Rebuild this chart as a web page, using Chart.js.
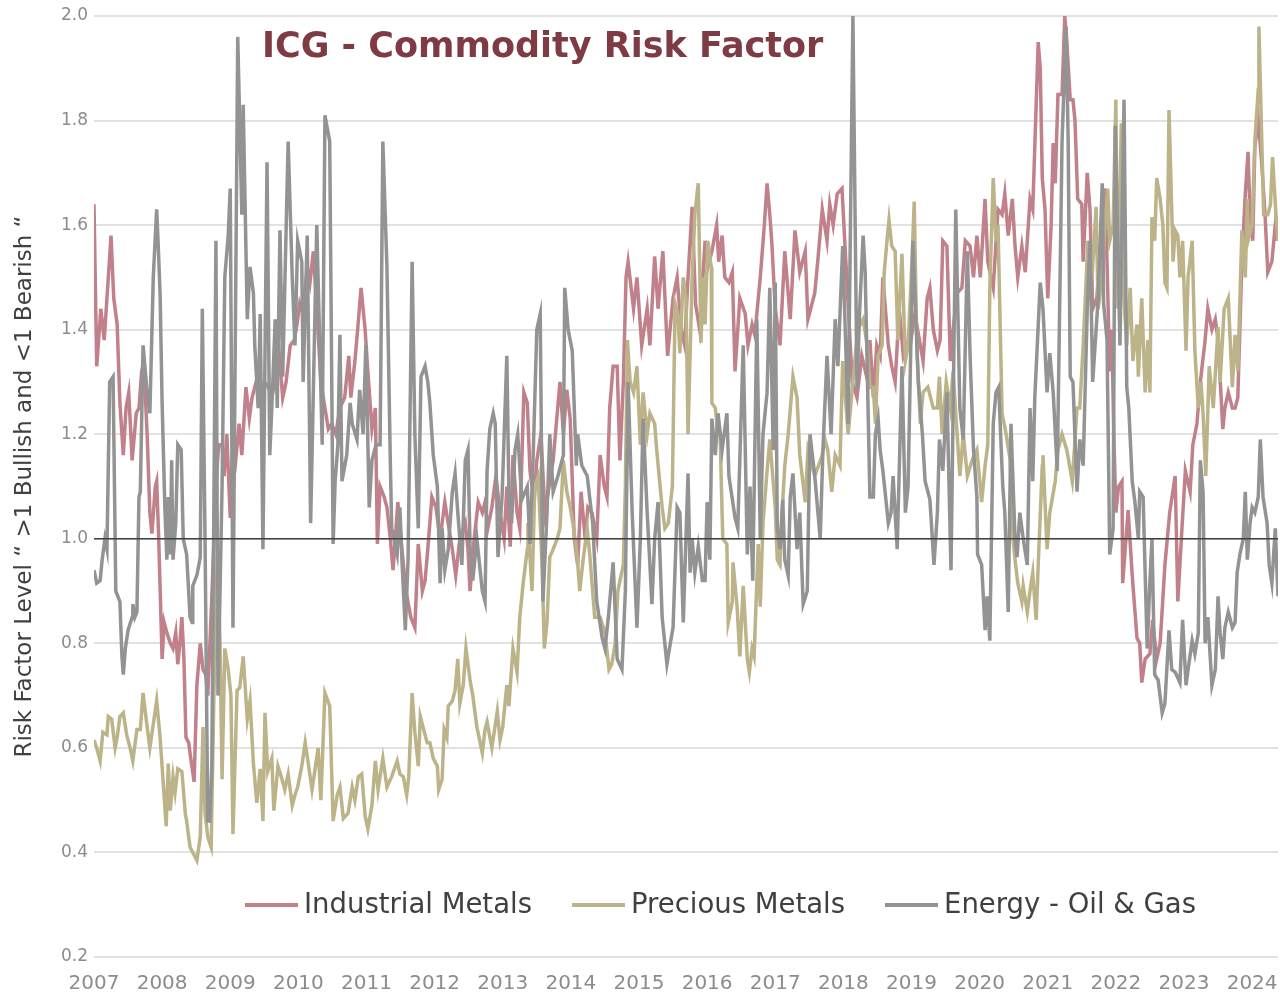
<!DOCTYPE html>
<html>
<head>
<meta charset="utf-8">
<title>ICG - Commodity Risk Factor</title>
<script src="https://cdn.jsdelivr.net/npm/chart.js@4.4.1/dist/chart.umd.min.js"></script>
<style>
  html, body { margin: 0; padding: 0; background: #ffffff; }
  #wrap { width: 1280px; height: 994px; }
</style>
</head>
<body>
<div id="wrap"><canvas id="chart" width="1280" height="994"></canvas></div>
<script>
const chartTitle = "ICG - Commodity Risk Factor";
const yAxisTitle = "Risk Factor Level \u201C >1 Bullish and <1 Bearish \u201C";
const seriesNames = ["Industrial Metals", "Precious Metals", "Energy - Oil & Gas"];
const seriesColors = ["#c0818a", "#bcb389", "#939393"];
const yearTicks = [2007, 2008, 2009, 2010, 2011, 2012, 2013, 2014, 2015, 2016, 2017, 2018, 2019, 2020, 2021, 2022, 2023, 2024];
const yMin = 0.2, yMax = 2.0, yStep = 0.2;
const xMin = 2007, xMax = 2024.38;
const neutralLevel = 1.0;

// [decimal year, risk factor]
const industrialMetals = [
[2007.00,1.64],[2007.04,1.33],[2007.10,1.44],[2007.15,1.38],[2007.21,1.50],[2007.25,1.58],[2007.29,1.46],[2007.34,1.41],[2007.38,1.26],[2007.43,1.16],[2007.47,1.25],[2007.51,1.28],[2007.56,1.15],[2007.62,1.24],[2007.66,1.25],[2007.70,1.32],[2007.73,1.34],[2007.78,1.20],[2007.82,1.05],[2007.85,1.01],[2007.90,1.10],[2007.92,1.11],[2007.95,1.00],
[2008.00,0.77],[2008.03,0.84],[2008.07,0.82],[2008.12,0.80],[2008.16,0.79],[2008.20,0.82],[2008.23,0.76],[2008.26,0.80],[2008.29,0.85],[2008.32,0.77],[2008.35,0.62],[2008.39,0.61],[2008.42,0.58],[2008.47,0.535],[2008.51,0.72],[2008.56,0.80],[2008.60,0.75],[2008.64,0.74],[2008.67,0.70],[2008.73,0.89],[2008.79,1.10],[2008.83,1.18],[2008.88,1.18],[2008.91,1.12],[2008.95,1.20],
[2009.00,1.04],[2009.04,1.18],[2009.08,1.15],[2009.13,1.22],[2009.17,1.16],[2009.23,1.29],[2009.28,1.23],[2009.32,1.27],[2009.38,1.30],[2009.44,1.28],[2009.50,1.30],[2009.56,1.29],[2009.61,1.27],[2009.67,1.31],[2009.72,1.35],[2009.77,1.27],[2009.82,1.30],[2009.88,1.37],[2009.94,1.38],[2009.98,1.41],
[2010.02,1.45],[2010.07,1.43],[2010.13,1.52],[2010.17,1.49],[2010.22,1.55],[2010.27,1.44],[2010.33,1.30],[2010.39,1.25],[2010.44,1.21],[2010.49,1.22],[2010.55,1.20],[2010.61,1.25],[2010.68,1.27],[2010.74,1.35],[2010.77,1.27],[2010.83,1.34],[2010.87,1.40],[2010.92,1.48],[2010.98,1.40],
[2011.02,1.32],[2011.08,1.21],[2011.13,1.25],[2011.16,0.99],[2011.20,1.10],[2011.26,1.08],[2011.30,1.06],[2011.35,1.00],[2011.39,0.94],[2011.46,1.07],[2011.52,0.98],[2011.58,0.90],[2011.65,0.85],[2011.71,0.83],[2011.76,0.99],[2011.82,0.90],[2011.86,0.92],[2011.90,0.98],[2011.96,1.08],
[2012.02,1.06],[2012.08,1.00],[2012.15,1.07],[2012.21,1.02],[2012.26,0.98],[2012.31,0.93],[2012.37,1.00],[2012.45,1.03],[2012.49,0.98],[2012.52,0.90],[2012.58,1.00],[2012.64,1.07],[2012.70,1.05],[2012.74,1.07],[2012.78,1.02],[2012.84,1.06],[2012.90,1.12],[2012.96,1.05],
[2013.02,1.00],[2013.06,1.10],[2013.11,0.985],[2013.15,1.16],[2013.21,1.05],[2013.25,1.02],[2013.31,1.28],[2013.36,1.26],[2013.40,1.13],[2013.46,1.07],[2013.50,1.15],[2013.56,1.20],[2013.62,1.05],[2013.68,1.10],[2013.74,1.15],[2013.80,1.24],[2013.84,1.30],[2013.89,1.20],[2013.94,1.285],[2013.99,1.23],
[2014.05,1.00],[2014.10,0.95],[2014.15,1.09],[2014.21,1.00],[2014.25,1.06],[2014.31,1.05],[2014.38,1.00],[2014.43,1.16],[2014.49,1.10],[2014.53,1.08],[2014.57,1.25],[2014.62,1.33],[2014.68,1.33],[2014.72,1.15],[2014.77,1.30],[2014.81,1.50],[2014.84,1.53],[2014.92,1.44],[2014.97,1.50],
[2015.04,1.37],[2015.12,1.44],[2015.16,1.37],[2015.23,1.54],[2015.28,1.44],[2015.35,1.55],[2015.42,1.35],[2015.50,1.46],[2015.56,1.50],[2015.62,1.40],[2015.67,1.37],[2015.72,1.50],[2015.78,1.635],[2015.83,1.45],[2015.89,1.40],[2015.97,1.57],
[2016.01,1.52],[2016.07,1.55],[2016.14,1.60],[2016.17,1.53],[2016.22,1.58],[2016.26,1.50],[2016.32,1.49],[2016.37,1.51],[2016.41,1.32],[2016.48,1.46],[2016.56,1.43],[2016.60,1.37],[2016.66,1.41],[2016.70,1.39],[2016.78,1.50],[2016.84,1.60],[2016.88,1.68],[2016.92,1.62],[2016.95,1.566],
[2017.00,1.44],[2017.07,1.37],[2017.14,1.55],[2017.22,1.42],[2017.29,1.59],[2017.36,1.51],[2017.44,1.55],[2017.48,1.42],[2017.54,1.45],[2017.58,1.47],[2017.63,1.54],[2017.69,1.63],[2017.76,1.57],[2017.80,1.64],[2017.85,1.60],[2017.91,1.66],[2017.98,1.67],
[2018.02,1.57],[2018.07,1.45],[2018.13,1.30],[2018.20,1.27],[2018.27,1.35],[2018.36,1.30],[2018.39,1.38],[2018.44,1.27],[2018.49,1.37],[2018.54,1.35],[2018.58,1.50],[2018.66,1.37],[2018.71,1.33],[2018.76,1.30],[2018.82,1.44],[2018.88,1.35],[2018.93,1.37],[2018.98,1.37],
[2019.05,1.43],[2019.13,1.37],[2019.17,1.34],[2019.23,1.46],[2019.27,1.48],[2019.32,1.40],[2019.38,1.36],[2019.42,1.38],[2019.46,1.57],[2019.52,1.56],[2019.57,1.34],[2019.61,1.40],[2019.67,1.47],[2019.74,1.48],[2019.79,1.57],[2019.86,1.56],[2019.91,1.50],[2019.96,1.58],
[2020.01,1.50],[2020.08,1.65],[2020.12,1.53],[2020.20,1.48],[2020.27,1.63],[2020.33,1.62],[2020.37,1.66],[2020.42,1.58],[2020.48,1.65],[2020.52,1.56],[2020.56,1.50],[2020.62,1.56],[2020.67,1.51],[2020.74,1.65],[2020.78,1.63],[2020.81,1.75],[2020.86,1.95],[2020.89,1.90],[2020.92,1.69],[2020.96,1.63],
[2021.00,1.46],[2021.05,1.60],[2021.08,1.757],[2021.11,1.68],[2021.15,1.85],[2021.21,1.85],[2021.25,2.00],[2021.28,1.95],[2021.33,1.84],[2021.37,1.84],[2021.40,1.80],[2021.44,1.65],[2021.50,1.64],[2021.52,1.53],[2021.58,1.70],[2021.62,1.63],[2021.66,1.44],[2021.72,1.46],[2021.80,1.61],[2021.84,1.67],[2021.87,1.53],[2021.91,1.32],[2021.94,1.40],[2021.97,1.20],
[2022.00,1.05],[2022.04,1.10],[2022.09,1.11],[2022.10,0.915],[2022.18,1.055],[2022.24,0.93],[2022.31,0.81],[2022.35,0.80],[2022.38,0.725],[2022.43,0.77],[2022.50,0.78],[2022.54,0.845],[2022.60,0.77],[2022.65,0.80],[2022.72,0.95],[2022.79,1.05],[2022.87,1.12],[2022.91,0.88],[2022.97,1.02],
[2023.02,1.13],[2023.09,1.09],[2023.13,1.18],[2023.19,1.22],[2023.24,1.30],[2023.31,1.38],[2023.35,1.44],[2023.41,1.40],[2023.46,1.42],[2023.50,1.38],[2023.57,1.21],[2023.60,1.25],[2023.65,1.28],[2023.71,1.25],[2023.75,1.25],[2023.79,1.27],[2023.85,1.53],[2023.90,1.66],[2023.94,1.74],[2023.97,1.62],
[2024.01,1.57],[2024.04,1.75],[2024.09,1.80],[2024.14,1.72],[2024.19,1.62],[2024.23,1.51],[2024.29,1.53],[2024.34,1.60],[2024.37,1.57]
];

const preciousMetals = [
[2007.00,0.615],[2007.04,0.60],[2007.09,0.575],[2007.13,0.63],[2007.19,0.625],[2007.21,0.66],[2007.26,0.655],[2007.31,0.60],[2007.34,0.62],[2007.38,0.66],[2007.43,0.667],[2007.48,0.625],[2007.53,0.60],[2007.57,0.575],[2007.63,0.635],[2007.68,0.635],[2007.72,0.705],[2007.78,0.64],[2007.82,0.60],[2007.87,0.645],[2007.92,0.69],[2007.97,0.62],
[2008.01,0.545],[2008.06,0.45],[2008.09,0.57],[2008.12,0.48],[2008.16,0.545],[2008.19,0.515],[2008.23,0.56],[2008.29,0.555],[2008.34,0.475],[2008.36,0.46],[2008.41,0.41],[2008.45,0.40],[2008.51,0.385],[2008.56,0.43],[2008.60,0.64],[2008.63,0.475],[2008.67,0.43],[2008.72,0.41],[2008.76,0.70],[2008.81,0.97],[2008.85,0.80],[2008.88,0.54],[2008.92,0.79],[2008.97,0.75],
[2009.01,0.70],[2009.04,0.435],[2009.10,0.71],[2009.14,0.715],[2009.19,0.775],[2009.25,0.655],[2009.29,0.69],[2009.34,0.57],[2009.39,0.495],[2009.44,0.56],[2009.48,0.46],[2009.51,0.667],[2009.55,0.555],[2009.61,0.58],[2009.64,0.48],[2009.70,0.565],[2009.76,0.54],[2009.80,0.52],[2009.85,0.55],[2009.91,0.49],[2009.95,0.51],[2009.99,0.525],
[2010.05,0.565],[2010.10,0.61],[2010.14,0.575],[2010.20,0.52],[2010.24,0.555],[2010.29,0.60],[2010.33,0.50],[2010.39,0.705],[2010.46,0.68],[2010.51,0.46],[2010.57,0.51],[2010.61,0.525],[2010.66,0.465],[2010.73,0.475],[2010.79,0.525],[2010.83,0.50],[2010.88,0.545],[2010.93,0.55],[2010.98,0.47],
[2011.02,0.445],[2011.08,0.49],[2011.13,0.575],[2011.17,0.52],[2011.24,0.58],[2011.30,0.525],[2011.37,0.545],[2011.45,0.575],[2011.49,0.55],[2011.54,0.545],[2011.59,0.51],[2011.62,0.545],[2011.67,0.705],[2011.71,0.63],[2011.76,0.565],[2011.79,0.66],[2011.83,0.64],[2011.89,0.61],[2011.93,0.61],[2011.98,0.58],
[2012.04,0.565],[2012.06,0.52],[2012.11,0.54],[2012.14,0.635],[2012.18,0.62],[2012.20,0.68],[2012.26,0.69],[2012.30,0.71],[2012.34,0.77],[2012.37,0.685],[2012.42,0.72],[2012.46,0.79],[2012.52,0.73],[2012.56,0.70],[2012.62,0.64],[2012.70,0.59],[2012.74,0.635],[2012.77,0.65],[2012.84,0.60],[2012.92,0.67],[2012.96,0.615],
[2013.00,0.64],[2013.06,0.72],[2013.09,0.68],[2013.15,0.79],[2013.21,0.745],[2013.25,0.85],[2013.30,0.915],[2013.36,0.98],[2013.37,1.03],[2013.43,0.90],[2013.47,1.10],[2013.52,1.12],[2013.58,0.94],[2013.61,0.79],[2013.65,0.84],[2013.69,0.965],[2013.74,0.98],[2013.80,1.00],[2013.84,1.02],[2013.89,1.15],[2013.94,1.09],[2013.99,1.06],
[2014.03,1.03],[2014.09,0.97],[2014.13,0.90],[2014.18,0.96],[2014.24,1.02],[2014.28,0.965],[2014.35,0.85],[2014.43,0.85],[2014.50,0.82],[2014.56,0.75],[2014.60,0.76],[2014.65,0.80],[2014.69,0.90],[2014.77,0.95],[2014.80,1.10],[2014.83,1.38],[2014.87,1.30],[2014.92,1.28],[2014.97,1.33],
[2015.02,1.18],[2015.06,1.28],[2015.12,1.20],[2015.16,1.24],[2015.23,1.22],[2015.26,1.17],[2015.31,1.10],[2015.34,1.06],[2015.38,1.02],[2015.43,1.03],[2015.49,1.10],[2015.53,1.45],[2015.57,1.43],[2015.60,1.355],[2015.65,1.50],[2015.69,1.46],[2015.72,1.20],[2015.78,1.50],[2015.82,1.62],[2015.87,1.68],[2015.91,1.375],[2015.94,1.50],[2015.97,1.41],
[2016.01,1.57],[2016.06,1.52],[2016.07,1.26],[2016.12,1.25],[2016.16,1.20],[2016.19,1.20],[2016.23,1.00],[2016.29,0.99],[2016.31,0.84],[2016.37,0.88],[2016.38,0.955],[2016.44,0.87],[2016.48,0.775],[2016.53,0.91],[2016.59,0.77],[2016.62,0.745],[2016.66,0.79],[2016.69,0.775],[2016.75,0.99],[2016.78,0.87],[2016.82,1.03],[2016.88,1.13],[2016.92,1.19],
[2017.00,1.06],[2017.03,0.96],[2017.07,0.95],[2017.10,1.05],[2017.14,1.14],[2017.19,1.20],[2017.26,1.31],[2017.32,1.27],[2017.36,1.16],[2017.44,1.07],[2017.48,1.17],[2017.58,1.12],[2017.69,1.16],[2017.73,1.19],[2017.77,1.17],[2017.83,1.09],[2017.88,1.16],[2017.95,1.14],[2017.99,1.34],
[2018.07,1.20],[2018.14,1.30],[2018.21,1.40],[2018.29,1.42],[2018.35,1.37],[2018.39,1.29],[2018.44,1.29],[2018.47,1.22],[2018.51,1.35],[2018.57,1.37],[2018.60,1.51],[2018.64,1.57],[2018.67,1.61],[2018.71,1.56],[2018.76,1.55],[2018.80,1.38],[2018.86,1.545],[2018.91,1.34],[2018.95,1.37],
[2019.01,1.54],[2019.04,1.645],[2019.08,1.36],[2019.13,1.22],[2019.17,1.28],[2019.24,1.29],[2019.32,1.25],[2019.38,1.25],[2019.41,1.31],[2019.45,1.20],[2019.51,1.30],[2019.57,1.25],[2019.61,1.32],[2019.67,1.20],[2019.71,1.12],[2019.76,1.20],[2019.82,1.12],[2019.89,1.15],[2019.96,1.17],
[2020.03,1.07],[2020.08,1.14],[2020.12,1.18],[2020.15,1.48],[2020.20,1.69],[2020.24,1.57],[2020.27,1.60],[2020.33,1.24],[2020.39,1.20],[2020.45,1.15],[2020.49,1.00],[2020.52,0.96],[2020.56,0.915],[2020.62,0.88],[2020.64,0.91],[2020.70,0.86],[2020.74,0.90],[2020.78,0.935],[2020.83,0.845],[2020.86,0.95],[2020.92,1.14],[2020.93,1.16],[2020.99,0.98],
[2021.03,1.05],[2021.11,1.11],[2021.15,1.17],[2021.21,1.20],[2021.28,1.17],[2021.36,1.11],[2021.43,1.25],[2021.47,1.25],[2021.52,1.37],[2021.59,1.57],[2021.65,1.50],[2021.71,1.635],[2021.74,1.44],[2021.80,1.50],[2021.84,1.60],[2021.88,1.67],[2021.91,1.57],[2021.96,1.60],
[2022.00,1.84],[2022.03,1.44],[2022.08,1.795],[2022.10,1.50],[2022.16,1.37],[2022.21,1.48],[2022.25,1.34],[2022.31,1.41],[2022.33,1.31],[2022.38,1.46],[2022.43,1.28],[2022.47,1.38],[2022.50,1.28],[2022.53,1.615],[2022.57,1.57],[2022.60,1.69],[2022.65,1.65],[2022.69,1.60],[2022.72,1.49],[2022.75,1.48],[2022.78,1.82],[2022.82,1.63],[2022.84,1.53],[2022.87,1.59],[2022.91,1.58],[2022.94,1.50],[2022.98,1.57],
[2023.03,1.36],[2023.06,1.50],[2023.12,1.57],[2023.16,1.36],[2023.21,1.25],[2023.25,1.30],[2023.28,1.24],[2023.32,1.12],[2023.37,1.33],[2023.43,1.25],[2023.50,1.405],[2023.53,1.30],[2023.59,1.44],[2023.65,1.46],[2023.71,1.29],[2023.75,1.39],[2023.79,1.32],[2023.85,1.59],[2023.90,1.50],[2023.93,1.65],[2023.94,1.57],
[2024.00,1.60],[2024.04,1.76],[2024.09,1.86],[2024.10,1.98],[2024.14,1.77],[2024.17,1.62],[2024.23,1.62],[2024.27,1.64],[2024.30,1.73],[2024.35,1.62],[2024.38,1.57]
];

const energyOilGas = [
[2007.00,0.94],[2007.04,0.915],[2007.09,0.92],[2007.12,0.96],[2007.16,1.00],[2007.19,0.98],[2007.23,1.30],[2007.28,1.31],[2007.32,0.90],[2007.38,0.88],[2007.41,0.775],[2007.43,0.74],[2007.46,0.79],[2007.50,0.825],[2007.56,0.85],[2007.57,0.875],[2007.60,0.85],[2007.63,0.86],[2007.66,1.08],[2007.68,1.09],[2007.72,1.37],[2007.78,1.28],[2007.82,1.24],[2007.87,1.50],[2007.92,1.63],[2007.94,1.57],[2007.97,1.47],
[2008.00,1.26],[2008.04,1.06],[2008.07,0.96],[2008.09,1.08],[2008.12,0.97],[2008.14,1.15],[2008.16,0.96],[2008.20,1.03],[2008.23,1.18],[2008.28,1.17],[2008.31,1.00],[2008.36,0.97],[2008.41,0.85],[2008.44,0.84],[2008.45,0.91],[2008.51,0.93],[2008.56,0.965],[2008.59,1.44],[2008.63,1.00],[2008.67,0.46],[2008.70,0.46],[2008.73,0.57],[2008.79,1.57],[2008.82,0.70],[2008.88,1.10],[2008.92,1.50],[2008.97,1.58],
[2009.00,1.67],[2009.04,0.83],[2009.11,1.96],[2009.17,1.62],[2009.19,1.83],[2009.25,1.42],[2009.29,1.52],[2009.34,1.47],[2009.36,1.37],[2009.41,1.25],[2009.44,1.43],[2009.48,0.98],[2009.54,1.72],[2009.58,1.16],[2009.61,1.25],[2009.66,1.42],[2009.69,1.25],[2009.73,1.59],[2009.77,1.31],[2009.85,1.76],[2009.91,1.50],[2009.95,1.37],[2009.99,1.57],
[2010.05,1.53],[2010.07,1.30],[2010.13,1.58],[2010.18,1.03],[2010.27,1.60],[2010.35,1.18],[2010.39,1.81],[2010.46,1.76],[2010.51,0.99],[2010.54,1.11],[2010.58,1.18],[2010.61,1.39],[2010.64,1.11],[2010.71,1.16],[2010.76,1.26],[2010.79,1.22],[2010.86,1.19],[2010.90,1.285],[2010.95,1.20],[2010.99,1.37],
[2011.04,1.06],[2011.08,1.15],[2011.14,1.18],[2011.20,1.18],[2011.24,1.76],[2011.30,1.52],[2011.35,1.145],[2011.37,1.02],[2011.45,0.97],[2011.49,1.06],[2011.52,0.96],[2011.57,0.825],[2011.61,0.96],[2011.67,1.53],[2011.71,1.20],[2011.76,1.02],[2011.80,1.31],[2011.86,1.33],[2011.90,1.30],[2011.93,1.26],[2011.98,1.16],
[2012.04,1.10],[2012.08,0.915],[2012.11,1.02],[2012.15,0.94],[2012.20,0.98],[2012.26,1.09],[2012.30,1.125],[2012.34,1.05],[2012.40,0.95],[2012.45,1.15],[2012.49,1.17],[2012.52,0.985],[2012.56,0.92],[2012.62,1.00],[2012.70,0.90],[2012.74,0.88],[2012.77,1.13],[2012.81,1.21],[2012.86,1.24],[2012.89,1.22],[2012.93,0.965],[2012.99,1.08],
[2013.06,1.35],[2013.09,1.09],[2013.13,1.03],[2013.18,1.17],[2013.22,1.20],[2013.28,1.075],[2013.36,1.10],[2013.40,0.99],[2013.44,1.13],[2013.50,1.40],[2013.55,1.43],[2013.59,0.88],[2013.65,1.05],[2013.69,1.20],[2013.74,1.09],[2013.81,1.12],[2013.89,1.16],[2013.91,1.48],[2013.96,1.40],
[2014.02,1.36],[2014.08,1.14],[2014.10,1.20],[2014.16,1.14],[2014.24,1.12],[2014.32,1.03],[2014.38,0.88],[2014.46,0.81],[2014.50,0.79],[2014.55,0.85],[2014.62,0.955],[2014.68,0.77],[2014.75,0.75],[2014.80,0.90],[2014.84,1.30],[2014.90,1.05],[2014.97,0.83],
[2015.02,1.00],[2015.06,1.23],[2015.12,1.05],[2015.19,0.875],[2015.23,1.00],[2015.28,1.07],[2015.34,0.85],[2015.41,0.76],[2015.46,0.80],[2015.50,0.83],[2015.56,1.06],[2015.60,1.05],[2015.65,0.84],[2015.72,1.125],[2015.75,0.935],[2015.78,1.00],[2015.82,0.935],[2015.87,0.985],[2015.93,0.92],[2015.97,0.92],
[2016.00,1.07],[2016.04,0.96],[2016.07,1.23],[2016.12,1.16],[2016.16,1.24],[2016.22,1.17],[2016.29,1.24],[2016.32,1.12],[2016.41,1.04],[2016.45,1.02],[2016.53,1.37],[2016.59,0.97],[2016.63,1.10],[2016.67,0.92],[2016.73,1.42],[2016.78,1.00],[2016.82,1.20],[2016.88,1.28],[2016.92,1.48],[2016.97,1.17],
[2017.00,1.49],[2017.03,1.02],[2017.07,0.98],[2017.11,1.075],[2017.14,0.96],[2017.19,0.93],[2017.22,1.08],[2017.26,1.125],[2017.32,0.98],[2017.36,1.05],[2017.41,0.875],[2017.47,0.90],[2017.51,1.20],[2017.58,1.12],[2017.66,1.00],[2017.70,1.17],[2017.76,1.35],[2017.82,1.20],[2017.88,1.42],[2017.92,1.33],[2017.99,1.56],
[2018.07,1.22],[2018.14,2.00],[2018.20,1.285],[2018.24,1.44],[2018.29,1.58],[2018.32,1.51],[2018.39,1.08],[2018.44,1.08],[2018.47,1.20],[2018.51,1.23],[2018.54,1.17],[2018.58,1.13],[2018.66,1.03],[2018.70,1.05],[2018.73,1.12],[2018.79,0.98],[2018.86,1.33],[2018.91,1.05],[2018.95,1.10],
[2019.02,1.57],[2019.10,1.30],[2019.16,1.20],[2019.20,1.11],[2019.27,1.075],[2019.33,0.95],[2019.38,1.05],[2019.41,1.19],[2019.46,1.13],[2019.52,1.28],[2019.58,0.94],[2019.65,1.63],[2019.71,1.25],[2019.76,1.19],[2019.82,1.55],[2019.86,1.35],[2019.91,1.17],[2019.96,1.08],[2019.97,0.97],
[2020.03,0.95],[2020.08,0.825],[2020.11,0.89],[2020.15,0.805],[2020.20,1.22],[2020.24,1.28],[2020.28,1.29],[2020.34,1.10],[2020.37,1.05],[2020.42,0.86],[2020.46,1.22],[2020.52,1.00],[2020.55,0.965],[2020.59,1.05],[2020.64,1.00],[2020.70,0.95],[2020.74,1.25],[2020.78,1.11],[2020.81,1.27],[2020.89,1.49],[2020.93,1.44],[2020.99,1.28],
[2021.03,1.355],[2021.08,1.28],[2021.14,1.13],[2021.21,1.76],[2021.27,1.98],[2021.30,1.76],[2021.33,1.31],[2021.37,1.30],[2021.43,1.09],[2021.47,1.19],[2021.52,1.14],[2021.58,1.44],[2021.62,1.57],[2021.66,1.30],[2021.74,1.46],[2021.80,1.68],[2021.82,1.45],[2021.87,1.38],[2021.91,0.97],[2021.96,1.02],[2021.99,1.79],
[2022.06,1.37],[2022.12,1.84],[2022.16,1.29],[2022.19,1.25],[2022.24,1.11],[2022.28,1.07],[2022.33,1.00],[2022.35,1.09],[2022.40,1.08],[2022.46,0.79],[2022.50,0.92],[2022.53,1.00],[2022.57,0.74],[2022.62,0.73],[2022.68,0.667],[2022.72,0.685],[2022.78,0.825],[2022.82,0.75],[2022.87,0.745],[2022.94,0.725],[2022.98,0.845],
[2023.03,0.72],[2023.06,0.75],[2023.12,0.805],[2023.16,0.78],[2023.21,0.82],[2023.24,1.15],[2023.28,1.09],[2023.31,0.80],[2023.35,0.85],[2023.41,0.72],[2023.46,0.75],[2023.50,0.89],[2023.53,0.82],[2023.57,0.77],[2023.60,0.83],[2023.65,0.86],[2023.71,0.83],[2023.75,0.84],[2023.78,0.935],[2023.82,0.97],[2023.87,1.00],[2023.90,1.09],[2023.93,0.96],[2023.97,1.03],
[2024.00,1.06],[2024.04,1.05],[2024.09,1.08],[2024.12,1.19],[2024.16,1.08],[2024.22,1.03],[2024.25,0.95],[2024.29,0.915],[2024.34,1.02],[2024.38,0.89]
];

const seriesData = [industrialMetals, preciousMetals, energyOilGas];

// title, neutral 1.0 line and legend drawn inside the plot area
const overlayPlugin = {
    id: "overlay",
    afterDatasetsDraw(chart) {
        const { ctx, chartArea, scales } = chart;
        const y1 = scales.y.getPixelForValue(neutralLevel);
        ctx.save();
        ctx.strokeStyle = "#404040";
        ctx.lineWidth = 1.5;
        ctx.beginPath();
        ctx.moveTo(chartArea.left, y1);
        ctx.lineTo(chartArea.right, y1);
        ctx.stroke();

        ctx.font = 'bold 35px "DejaVu Sans"';
        ctx.fillStyle = "#7f3b43";
        ctx.textAlign = "left";
        ctx.textBaseline = "middle";
        ctx.fillText(chartTitle, chartArea.left + 168, chartArea.top + 32);

        ctx.font = '27.5px "DejaVu Sans"';
        let x = chartArea.left + 151;
        const ly = chartArea.bottom - 52;
        chart.data.datasets.forEach((ds) => {
            ctx.strokeStyle = ds.borderColor;
            ctx.lineWidth = 4;
            ctx.beginPath();
            ctx.moveTo(x, ly);
            ctx.lineTo(x + 53, ly);
            ctx.stroke();
            x += 59;
            ctx.fillStyle = "#404040";
            ctx.fillText(ds.label, x, ly + 1);
            x += ctx.measureText(ds.label).width + 40;
        });
        ctx.restore();
    },
};

const canvas = document.getElementById("chart");
new Chart(canvas, {
    type: "line",
    data: {
        datasets: seriesNames.map((name, i) => ({
            label: name,
            data: seriesData[i].map(([x, y]) => ({ x, y })),
            borderColor: seriesColors[i],
            backgroundColor: seriesColors[i],
            borderWidth: 3.5,
            pointRadius: 0,
            tension: 0,
            fill: false,
            order: 3 - i,
        })),
    },
    options: {
        responsive: false,
        animation: false,
        devicePixelRatio: 1,
        layout: { padding: { top: 16, right: 2, left: 0, bottom: 0 } },
        plugins: {
            legend: { display: false },
            title: { display: false },
            tooltip: { enabled: false },
        },
        scales: {
            x: {
                type: "linear",
                min: xMin,
                max: xMax,
                afterBuildTicks(scale) {
                    scale.ticks = yearTicks.map((v) => ({ value: v }));
                },
                afterFit(scale) {
                    scale.height = 37;
                    scale.paddingLeft = 0;
                    scale.paddingRight = 0;
                },
                grid: { display: false },
                border: { display: false },
                ticks: {
                    padding: 7,
                    maxRotation: 0,
                    autoSkip: false,
                    color: "#8c8c8c",
                    font: { family: "DejaVu Sans", size: 20 },
                    callback: (v) => String(v),
                },
            },
            y: {
                min: yMin,
                max: yMax,
                afterFit(scale) {
                    scale.width = 94;
                    scale.paddingTop = 0;
                    scale.paddingBottom = 0;
                },
                grid: { color: "#e2e2e2", lineWidth: 2, drawTicks: false },
                border: { display: false },
                ticks: {
                    stepSize: yStep,
                    padding: 6,
                    color: "#8c8c8c",
                    font: { family: "DejaVu Sans", size: 17 },
                    callback: (v) => v.toFixed(1),
                },
                title: {
                    display: true,
                    text: yAxisTitle,
                    color: "#404040",
                    font: { family: "DejaVu Sans", size: 23 },
                    padding: { top: 11, bottom: 0 },
                },
            },
        },
    },
    plugins: [overlayPlugin],
});
</script>
</body>
</html>
